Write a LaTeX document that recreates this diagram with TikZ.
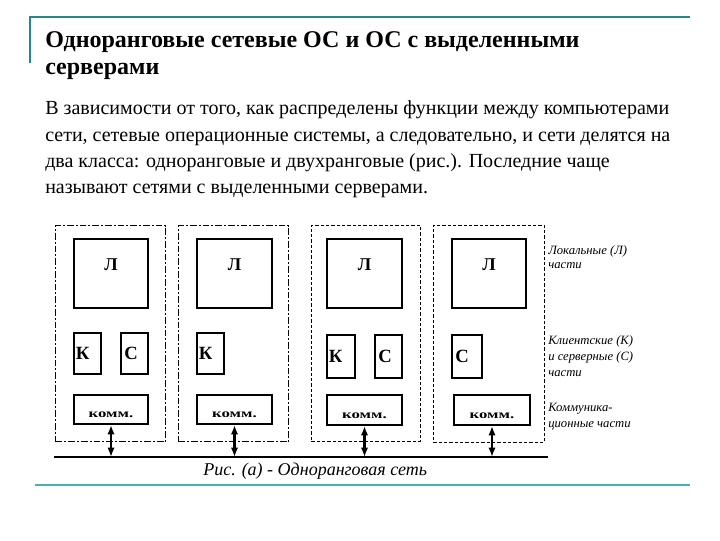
\documentclass[tikz,border=0pt]{standalone}
\usepackage{fontspec}
\usepackage{graphicx}
\setmainfont{Liberation Serif}
\usetikzlibrary{arrows.meta,calc}
\definecolor{tealline}{RGB}{38,134,144}
\definecolor{teallight}{RGB}{70,175,180}
\begin{document}
\begin{tikzpicture}[x=0.75pt,y=-0.75pt,
  partbox/.style 2 args={draw=black,line width=1.4pt,minimum width=#1*0.75pt-1.4pt,minimum height=#2*0.75pt-1.4pt,inner sep=0pt,anchor=north west},
  grpdashdot/.style 2 args={draw=black,line width=0.9pt,dash pattern=on 5pt off 1.5pt on 1.5pt off 1.5pt,minimum width=#1*0.75pt,minimum height=#2*0.75pt,inner sep=0pt,anchor=north west},
  grpdash/.style 2 args={draw=black,line width=0.7pt,dash pattern=on 2.5pt off 1.5pt,minimum width=#1*0.75pt,minimum height=#2*0.75pt,inner sep=0pt,anchor=north west},
  loclbl/.style={font=\bfseries\fontsize{13.5}{14}\selectfont,inner sep=0pt},
  kclbl/.style={font=\bfseries\fontsize{14}{15}\selectfont,inner sep=0pt,anchor=west},
  commlbl/.style={font=\bfseries\fontsize{9}{10}\selectfont,inner sep=0pt},
  legtext/.style={font=\itshape\fontsize{9.5}{11.5}\selectfont,inner sep=0pt,anchor=base west,align=left},
  dblarrow/.style={{Latex[length=7pt,width=5.5pt]}-{Latex[length=7pt,width=5.5pt]},line width=2pt},
  bodytext/.style={font=\fontsize{15}{18}\selectfont,inner sep=0pt,anchor=base west},
  titletext/.style={font=\bfseries\fontsize{18}{20}\selectfont,inner sep=0pt,anchor=base west}]
\useasboundingbox (0,0) rectangle (720,540);
% frame lines
\coordinate (tl) at (30,17);
\coordinate (tr) at (690,17);
\coordinate (tb) at (30,63);
\draw[tealline,line width=1.6pt] (tb) -- (tl) -- (tr);
\coordinate (bl) at (35,485);
\coordinate (br) at (690,485);
\draw[teallight,line width=1.6pt] (bl) -- (br);
% title
\node[titletext] (t1) at (45,47) {Одноранговые сетевые ОС и ОС с выделенными};
\node[titletext] (t2) at (45,74) {серверами};
% body
\node[bodytext] (b1) at (45,114) {В зависимости от того, как распределены функции между компьютерами};
\node[bodytext] (b2) at (45,141) {сети, сетевые операционные системы, а следовательно, и сети делятся на};
\node[bodytext] (b3) at (45,167) {два класса: одноранговые и двухранговые (рис.). Последние чаще};
\node[bodytext] (b4) at (45,193) {называют сетями с выделенными серверами.};
% groups
\node[grpdashdot={110}{216}] (g1) at (55,225) {};
\node[grpdashdot={110}{216}] (g2) at (178,225) {};
\node[grpdash={109}{216}] (g3) at (311,225) {};
\node[grpdash={111}{217}] (g4) at (433,225) {};
% group 1
\node[partbox={76}{71}] (l1) at (73,238) {};
\node[partbox={29}{43}] (k1) at (73,332) {};
\node[partbox={29}{43}] (s1) at (120,332) {};
\node[partbox={76}{31}] (c1) at (73,394) {};
% group 2
\node[partbox={77}{71}] (l2) at (196,238) {};
\node[partbox={29}{43}] (k2) at (196,332) {};
\node[partbox={77}{31}] (c2) at (196,394) {};
% group 3
\node[partbox={77}{71}] (l3) at (326,238) {};
\node[partbox={30}{45}] (k3) at (326,334) {};
\node[partbox={29}{45}] (s3) at (374,334) {};
\node[partbox={77}{32}] (c3) at (326,394) {};
% group 4
\node[partbox={76}{71}] (l4) at (451,238) {};
\node[partbox={32}{45}] (s4) at (451,334) {};
\node[partbox={78}{32}] (c4) at (453,394) {};
% labels
\foreach \n in {l1,l2,l3,l4}{\node[loclbl] (\n t) at ($(\n.north)+(0,27)$) {Л};}
\node[kclbl] (k1t) at ($(k1.west)+(2.5,0)$) {К};
\node[kclbl] (s1t) at ($(s1.west)+(4,0)$) {С};
\node[kclbl] (k2t) at ($(k2.west)+(2.5,0)$) {К};
\node[kclbl] (k3t) at ($(k3.west)+(2.5,0)$) {К};
\node[kclbl] (s3t) at ($(s3.west)+(4,0)$) {С};
\node[kclbl] (s4t) at ($(s4.west)+(4,0)$) {С};
\foreach \n in {c1,c2,c3,c4}{\node[commlbl] (\n t) at ($(\n.south)+(0,-10)$) {\scalebox{1.4}[1]{комм.}};}
% bus
\coordinate (busL) at (54,457);
\coordinate (busR) at (548,457);
\draw[line width=1.8pt] (busL) -- (busR);
\foreach \n in {c1,c2,c3,c4}{\draw[dblarrow] (\n.south) -- (\n.south |- busL);}
% legend
\node[legtext] (lg1a) at (548,254) {Локальные (Л)};
\node[legtext] (lg1b) at (548,268) {части};
\node[legtext] (lg2a) at (548,344) {Клиентские (К)};
\node[legtext] (lg2b) at (548,360) {и серверные (С)};
\node[legtext] (lg2c) at (548,376) {части};
\node[legtext] (lg3a) at (548,411) {Коммуника-};
\node[legtext] (lg3b) at (548,427) {ционные части};
% caption
\node[font=\itshape\fontsize{13.5}{15}\selectfont,inner sep=0pt,anchor=base west] (cap) at (203,475) {Рис. (а) - Одноранговая сеть};
\end{tikzpicture}
\end{document}
